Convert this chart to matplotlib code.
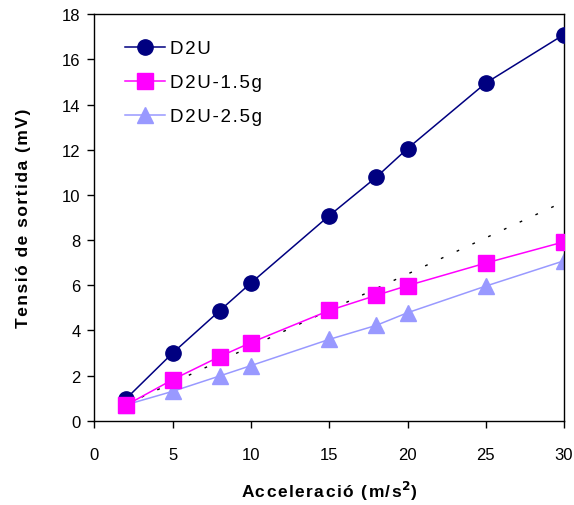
import matplotlib.pyplot as plt

plt.rcParams['font.family'] = ['Liberation Sans', 'DejaVu Sans']

# Acceleration values (m/s^2)
accel = [2, 5, 8, 10, 15, 18, 20, 25, 30]

# Output voltage (mV) for each sensor configuration
d2u = [0.96, 3.0, 4.87, 6.1, 9.08, 10.78, 12.05, 14.95, 17.1]
d2u_15g = [0.68, 1.82, 2.84, 3.46, 4.88, 5.55, 5.98, 6.98, 7.92]
d2u_25g = [0.7, 1.3, 1.98, 2.44, 3.6, 4.22, 4.78, 5.96, 7.08]

# Linear trend (dotted)
trend_x = [2, 30]
trend_y = [0.72, 9.7]

series_names = ['D2U', 'D2U-1.5g', 'D2U-2.5g']


def spaced(text, gap='\u200a'):
    # widen letter spacing with hair spaces
    return gap.join(text)


fig = plt.figure(figsize=(5.74, 5.06), dpi=100)
ax = fig.add_axes([0.1646, 0.1666, 0.8180, 0.8034])

ax.plot(trend_x, trend_y, color='black', lw=1.0, linestyle=(0, (2, 10.5)), zorder=1)
ax.plot(accel, d2u, color='#000080', lw=1.1, marker='o', markersize=11,
        label=spaced(series_names[0]), zorder=3)
ax.plot(accel, d2u_15g, color='#FF00FF', lw=1.1, marker='s', markersize=11,
        label=spaced(series_names[1]), zorder=3)
ax.plot(accel, d2u_25g, color='#9999FF', lw=1.1, marker='^', markersize=12,
        label=spaced(series_names[2]), zorder=2)

ax.set_xlim(0, 30)
ax.set_ylim(0, 18)
ax.set_xticks(range(0, 31, 5))
ax.set_yticks(range(0, 19, 2))
ax.tick_params(direction='out', length=5, width=1, labelsize=12, pad=5)
ax.tick_params(axis='x', pad=14)
for s in ax.spines.values():
    s.set_linewidth(1.0)

ax.set_xlabel(spaced('Acceleració (m/s') + r'$^\mathbf{2}$)', fontsize=12.5,
              fontweight='bold', labelpad=12)
ax.set_ylabel(spaced('Tensió de sortida (mV)'), fontsize=12.5, fontweight='bold',
              labelpad=22)

ax.legend(loc='upper left', frameon=False, fontsize=13.5, handlelength=2.1,
          handletextpad=0.3, labelspacing=0.9, borderaxespad=0.0,
          bbox_to_anchor=(0.05, 0.955))

fig.savefig('out.png', dpi=100)
